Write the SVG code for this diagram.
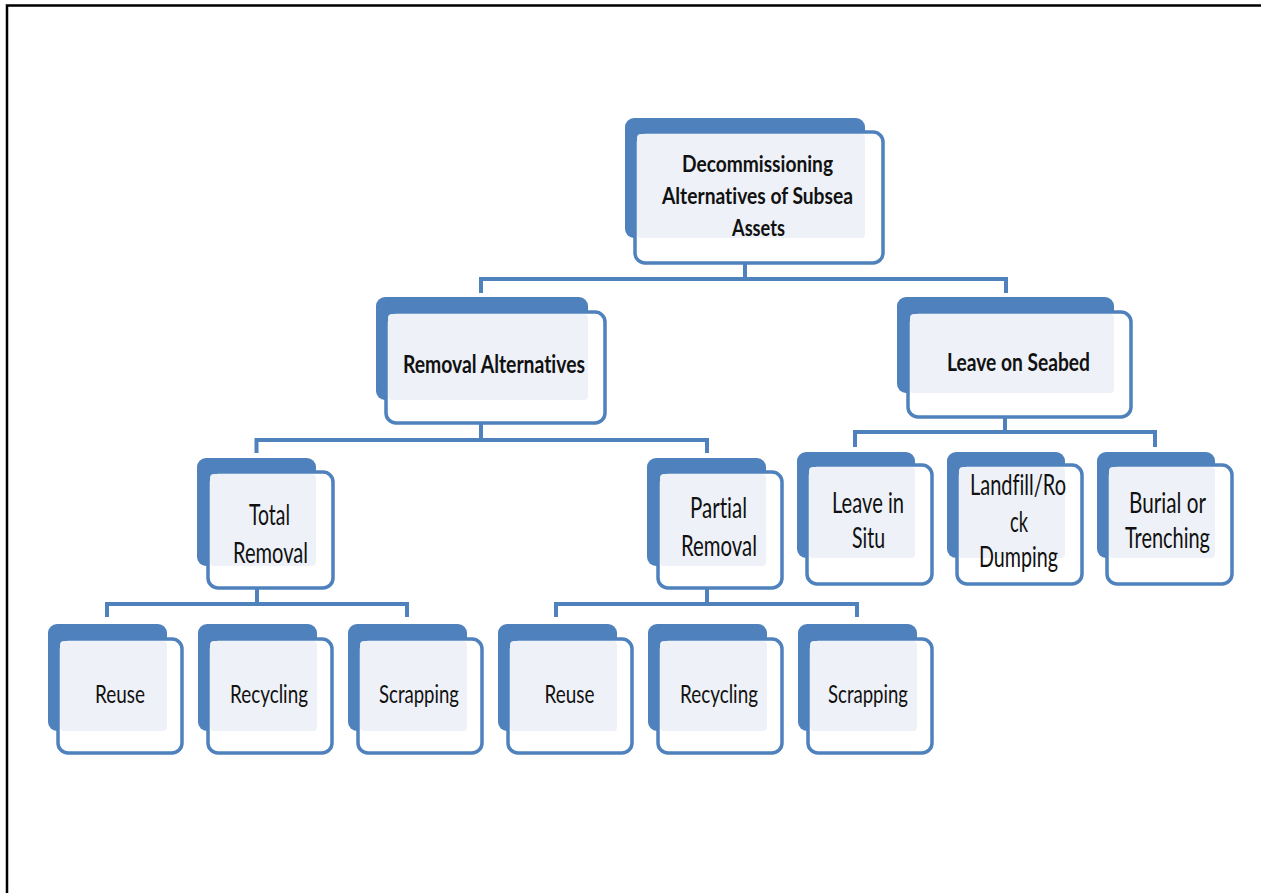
<svg xmlns="http://www.w3.org/2000/svg" width="1261" height="893" viewBox="0 0 1261 893">
<style>
.back{fill:#4F81BD}
.front{fill:#FFFFFF;stroke:#4F81BD;stroke-width:3.5}
.light{fill:#EEF2F8}
.t{font-family:Lato,"Liberation Sans",sans-serif;font-size:25px;fill:#111111;text-anchor:middle;font-variant-ligatures:none}
.m{font-size:28px}
.b{font-weight:bold;font-size:24px}
.r{font-weight:bold;font-size:22px}
.conn{fill:none;stroke:#4F81BD;stroke-width:4}
</style>
<rect width="1261" height="893" fill="#FFFFFF"/>
<path d="M7 893 V5.5 H1261" fill="none" stroke="#000000" stroke-width="2.5"/>
<g id="connectors">
<path class="conn" d="M745 263 V279 M481 293 V279 H1006 V293"/>
<path class="conn" d="M481 423 V440 M256.5 453 V440 H707 V453"/>
<path class="conn" d="M1005 417 V432 M855 447 V432 H1155 V447"/>
<path class="conn" d="M257 588 V604 M107 617 V604 H407 V617"/>
<path class="conn" d="M707 588 V604 M556 617 V604 H857 V617"/>
</g>
<g id="root">
<rect class="back" x="625" y="118" width="240" height="120" rx="9"/>
<rect class="front" x="635" y="132" width="248" height="131" rx="10"/>
<rect class="light" x="637" y="134" width="228" height="104" rx="4"/>
<text class="t r" x="757.5" y="172" textLength="151" lengthAdjust="spacingAndGlyphs">Decommissioning</text>
<text class="t r" x="757.5" y="204" textLength="191" lengthAdjust="spacingAndGlyphs">Alternatives of Subsea</text>
<text class="t r" x="758.5" y="236" textLength="53" lengthAdjust="spacingAndGlyphs">Assets</text>
</g>
<g id="removal-alternatives">
<rect class="back" x="376" y="297" width="212" height="103" rx="9"/>
<rect class="front" x="386" y="312" width="219" height="111" rx="10"/>
<rect class="light" x="388" y="314" width="200" height="86" rx="4"/>
<text class="t b" x="494" y="373" textLength="182" lengthAdjust="spacingAndGlyphs">Removal Alternatives</text>
</g>
<g id="leave-on-seabed">
<rect class="back" x="897" y="297" width="217" height="96" rx="9"/>
<rect class="front" x="908" y="312" width="223" height="105" rx="10"/>
<rect class="light" x="910" y="314" width="204" height="79" rx="4"/>
<text class="t b" x="1018.5" y="371" textLength="143" lengthAdjust="spacingAndGlyphs">Leave on Seabed</text>
</g>
<g id="total-removal">
<rect class="back" x="197" y="458" width="119" height="108" rx="9"/>
<rect class="front" x="208" y="472" width="125" height="116" rx="10"/>
<rect class="light" x="210" y="474" width="106" height="92" rx="4"/>
<text class="t m" x="269.5" y="525" textLength="41" lengthAdjust="spacingAndGlyphs">Total</text>
<text class="t m" x="270.5" y="563" textLength="75" lengthAdjust="spacingAndGlyphs">Removal</text>
</g>
<g id="partial-removal">
<rect class="back" x="647" y="458" width="119" height="108" rx="9"/>
<rect class="front" x="658" y="472" width="124" height="116" rx="10"/>
<rect class="light" x="660" y="474" width="106" height="92" rx="4"/>
<text class="t m" x="718.5" y="518" textLength="57" lengthAdjust="spacingAndGlyphs">Partial</text>
<text class="t m" x="719" y="556" textLength="76" lengthAdjust="spacingAndGlyphs">Removal</text>
</g>
<g id="leave-in-situ">
<rect class="back" x="797" y="452" width="118" height="106" rx="9"/>
<rect class="front" x="807" y="465" width="125" height="119" rx="10"/>
<rect class="light" x="809" y="467" width="106" height="91" rx="4"/>
<text class="t m" x="868" y="513" textLength="72" lengthAdjust="spacingAndGlyphs">Leave in</text>
<text class="t m" x="868.5" y="548" textLength="33" lengthAdjust="spacingAndGlyphs">Situ</text>
</g>
<g id="landfill-rock-dumping">
<rect class="back" x="947" y="452" width="118" height="106" rx="9"/>
<rect class="front" x="957" y="465" width="125" height="119" rx="10"/>
<rect class="light" x="959" y="467" width="106" height="91" rx="4"/>
<text class="t m" x="1018" y="495" textLength="96" lengthAdjust="spacingAndGlyphs">Landfill/Ro</text>
<text class="t m" x="1019" y="532" textLength="18" lengthAdjust="spacingAndGlyphs">ck</text>
<text class="t m" x="1018.5" y="567" textLength="79" lengthAdjust="spacingAndGlyphs">Dumping</text>
</g>
<g id="burial-or-trenching">
<rect class="back" x="1097" y="452" width="118" height="106" rx="9"/>
<rect class="front" x="1107" y="465" width="125" height="119" rx="10"/>
<rect class="light" x="1109" y="467" width="106" height="91" rx="4"/>
<text class="t m" x="1167.5" y="513" textLength="77" lengthAdjust="spacingAndGlyphs">Burial or</text>
<text class="t m" x="1167.5" y="548" textLength="85" lengthAdjust="spacingAndGlyphs">Trenching</text>
</g>
<g id="reuse-1">
<rect class="back" x="48" y="624" width="119" height="107" rx="9"/>
<rect class="front" x="58" y="639" width="124" height="114" rx="10"/>
<rect class="light" x="60" y="641" width="107" height="90" rx="4"/>
<text class="t" x="120" y="703" textLength="50" lengthAdjust="spacingAndGlyphs">Reuse</text>
</g>
<g id="recycling-1">
<rect class="back" x="198" y="624" width="119" height="107" rx="9"/>
<rect class="front" x="208" y="639" width="124" height="114" rx="10"/>
<rect class="light" x="210" y="641" width="107" height="90" rx="4"/>
<text class="t" x="269" y="703" textLength="78" lengthAdjust="spacingAndGlyphs">Recycling</text>
</g>
<g id="scrapping-1">
<rect class="back" x="348" y="624" width="119" height="107" rx="9"/>
<rect class="front" x="358" y="639" width="124" height="114" rx="10"/>
<rect class="light" x="360" y="641" width="107" height="90" rx="4"/>
<text class="t" x="419" y="703" textLength="80" lengthAdjust="spacingAndGlyphs">Scrapping</text>
</g>
<g id="reuse-2">
<rect class="back" x="498" y="624" width="119" height="107" rx="9"/>
<rect class="front" x="508" y="639" width="124" height="114" rx="10"/>
<rect class="light" x="510" y="641" width="107" height="90" rx="4"/>
<text class="t" x="569.5" y="703" textLength="50" lengthAdjust="spacingAndGlyphs">Reuse</text>
</g>
<g id="recycling-2">
<rect class="back" x="648" y="624" width="119" height="107" rx="9"/>
<rect class="front" x="658" y="639" width="124" height="114" rx="10"/>
<rect class="light" x="660" y="641" width="107" height="90" rx="4"/>
<text class="t" x="719" y="703" textLength="78" lengthAdjust="spacingAndGlyphs">Recycling</text>
</g>
<g id="scrapping-2">
<rect class="back" x="798" y="624" width="119" height="107" rx="9"/>
<rect class="front" x="808" y="639" width="124" height="114" rx="10"/>
<rect class="light" x="810" y="641" width="107" height="90" rx="4"/>
<text class="t" x="868" y="703" textLength="80" lengthAdjust="spacingAndGlyphs">Scrapping</text>
</g>
</svg>
